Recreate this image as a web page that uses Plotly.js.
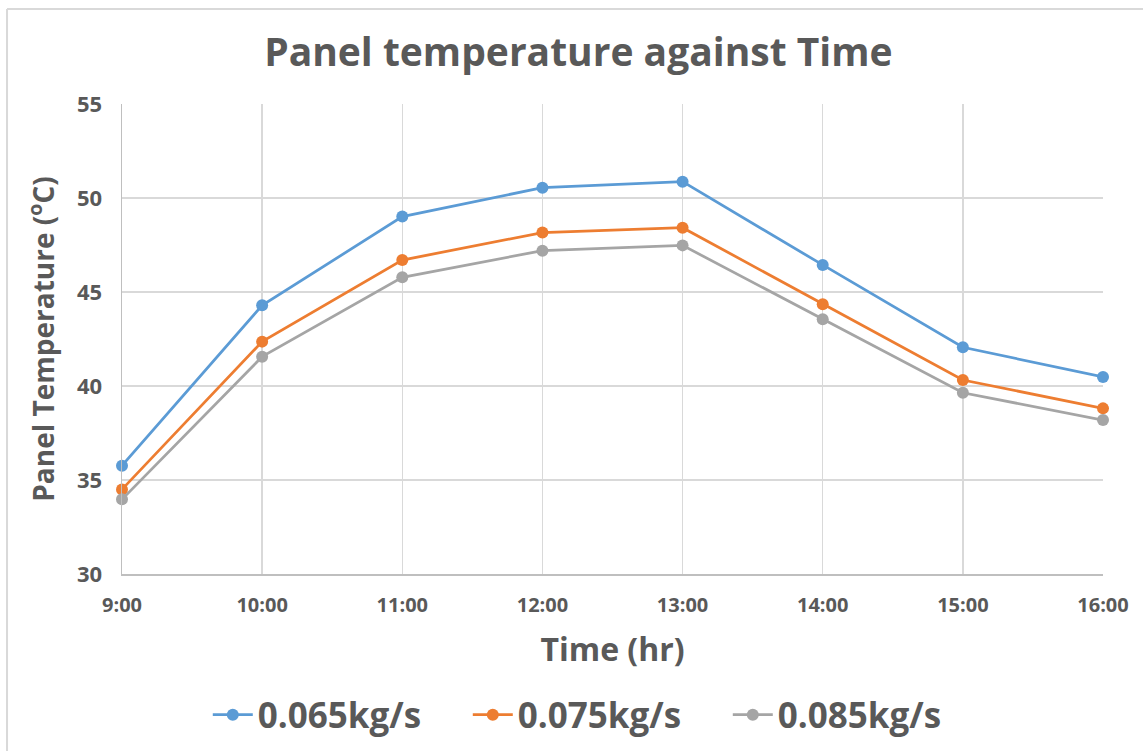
<!DOCTYPE html>
<html>
<head>
<meta charset="utf-8">
<script src="https://cdn.plot.ly/plotly-3.0.1.min.js"></script>
<style>html,body{margin:0;padding:0;background:#fff;}#chart{width:1143px;height:751px;}</style>
</head>
<body>
<div id="chart"></div>
<script>
const times = ["9:00","10:00","11:00","12:00","13:00","14:00","15:00","16:00"];
const seriesNames = ["0.065kg/s","0.075kg/s","0.085kg/s"];
const flow065 = [35.76, 44.29, 49.01, 50.55, 50.87, 46.44, 42.06, 40.48];
const flow075 = [34.50, 42.36, 46.70, 48.16, 48.42, 44.35, 40.32, 38.81];
const flow085 = [33.97, 41.56, 45.78, 47.20, 47.48, 43.55, 39.64, 38.19];
const colors = ["#5B9BD5","#ED7D31","#A5A5A5"];

const allSeries = [flow065, flow075, flow085];
const traces = allSeries.map((vals, i) => ({
  x: times, y: vals, name: seriesNames[i], type: "scatter", mode: "lines+markers",
  line: {color: colors[i], width: 2.75},
  marker: {color: colors[i], size: 12},
  cliponaxis: false
}));

const F = "'Open Sans', 'DejaVu Sans', sans-serif";
const txt = "#595959";
const layout = {
  width: 1143, height: 751,
  margin: {l: 122, r: 40, t: 104, b: 177},
  paper_bgcolor: "#fff", plot_bgcolor: "#fff",
  title: {text: "<b>Panel temperature against Time</b>", font: {family: F, size: 39, color: txt},
          xref: "container", x: 0.506, yref: "container", y: 0.930, yanchor: "middle"},
  xaxis: {type: "category", range: [0, 7], showgrid: true, gridcolor: "#D9D9D9", gridwidth: 1.5,
          showline: true, linecolor: "#BFBFBF", linewidth: 1.5, zeroline: false,
          ticks: "outside", ticklen: 12, tickcolor: "rgba(0,0,0,0)",
          tickfont: {family: F, size: 20, color: txt, weight: "bold"},
          title: {text: "<b>Time (hr)</b>", font: {family: F, size: 32, color: txt}, standoff: 22},
          fixedrange: true},
  yaxis: {range: [30, 55], dtick: 5, showgrid: true, gridcolor: "#D9D9D9", gridwidth: 1.5,
          showline: true, linecolor: "#BFBFBF", linewidth: 1.5, zeroline: false,
          ticks: "outside", ticklen: 14, tickcolor: "rgba(0,0,0,0)",
          tickfont: {family: F, size: 22, color: txt, weight: "bold"},
          title: {text: "<b>Panel Temperature (<sup>o</sup>C)</b>", font: {family: F, size: 28, color: txt}, standoff: 14},
          fixedrange: true},
  showlegend: true,
  legend: {orientation: "h", xref: "container", x: 0.523, xanchor: "center",
           yref: "container", y: 0.048, yanchor: "middle",
           font: {family: F, size: 35, color: txt, weight: "bold"}, itemwidth: 40, tracegroupgap: 0,
           entrywidth: 205, entrywidthmode: "pixels"},
  shapes: [
    {type: "line", xref: "paper", yref: "paper", x0: -0.1172, x1: 1.05, y0: 1.2021, y1: 1.2021, line: {color: "#D9D9D9", width: 2}},
    {type: "line", xref: "paper", yref: "paper", x0: -0.1172, x1: -0.1172, y0: 1.2021, y1: -0.40, line: {color: "#D9D9D9", width: 2}}
  ]
};
Plotly.newPlot("chart", traces, layout, {displayModeBar: false, staticPlot: true});
</script>
</body>
</html>
